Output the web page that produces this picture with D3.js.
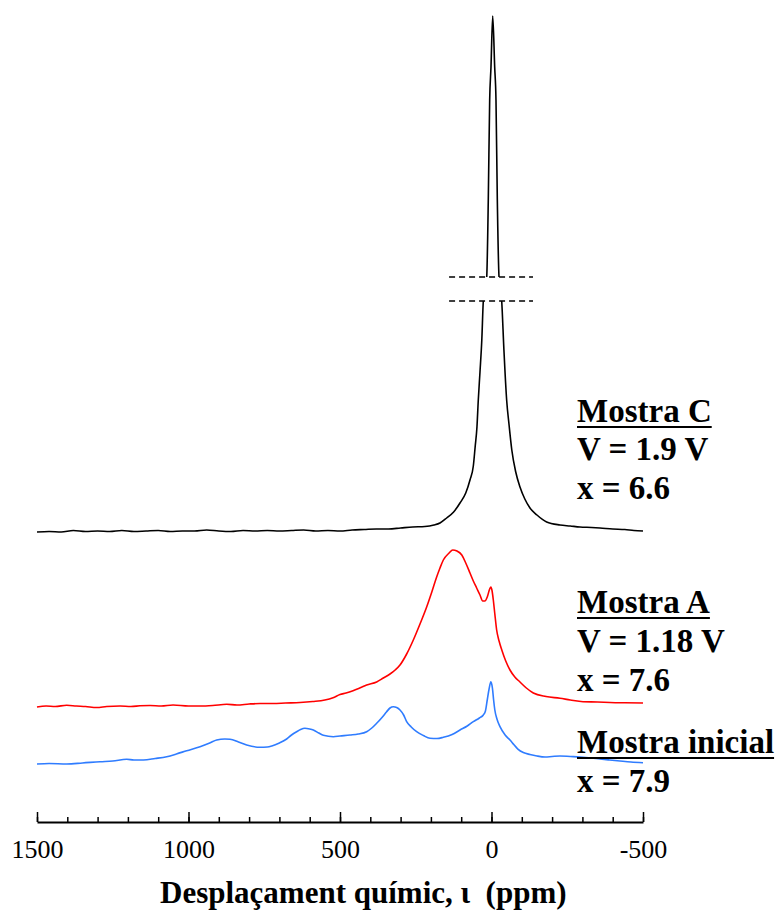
<!DOCTYPE html>
<html>
<head>
<meta charset="utf-8">
<script src="https://cdnjs.cloudflare.com/ajax/libs/d3/7.8.5/d3.min.js"></script>
<style>
  html, body { margin: 0; padding: 0; background: #fff; }
  svg { display: block; }
</style>
</head>
<body>
<svg id="chart" width="782" height="910"></svg>
<script>
// ---------------- DATA ----------------
// Chemical shift (ppm) and intensity above each spectrum's own baseline (a.u.)
const ppmC = [1500,1460,1420,1380,1340,1300,1260,1220,1180,1140,1100,1060,1020,980,940,900,860,820,780,740,700,660,620,580,540,500,460,420,380,340,300,260,220,190,170,148,125,104,85,71,60,54,48,43.6,38,32,27,15.8,10.6,6,1.7,-4,-10.5,-14.8,-19.2,-24.8,-33.7,-41,-50,-58,-67,-80,-94,-110,-127,-150,-182,-226,-260,-292,-330,-358,-400,-440,-470,-500];
const intC = [0,0.05,0,0.15,0.05,0.1,0.05,0.15,0.05,0.1,0.15,0.05,0.1,0.1,0.2,0.1,0.05,0.15,0.1,0.15,0.1,0.15,0.2,0.1,0.15,0.1,0.2,0.25,0.3,0.3,0.4,0.5,0.55,0.7,0.9,1.4,2.0,2.9,3.9,5.2,6.6,8.5,10.5,13.2,16.0,19.2,23.1,41,48.7,58.7,62,67.1,62,58.7,48.7,41,23.1,18.2,13.2,10.7,8.2,6.0,4.5,3.3,2.4,1.7,1.0,0.7,0.6,0.5,0.45,0.4,0.3,0.25,0.15,0.1];

const ppmA = [1500,1470,1440,1402,1370,1340,1303,1270,1226,1190,1160,1127,1090,1051,1000,962,920,874,840,800,764,720,680,632,590,550,523,500,480,457,435,412,379,357,335,318,302,280,258,236,214,197,181,170,159,140,128,114,98,85,71,60,49,38,29,22,14,6,2,-2,-6,-11,-17,-25,-34,-47,-61,-77,-94,-115,-138,-180,-226,-260,-302,-350,-391,-440,-500];
const intA = [0,0.1,0.05,0.17,0.1,0.05,-0.05,0.05,0.1,0.05,0.12,0.15,0.1,0.2,0.1,0.1,0.15,0.27,0.2,0.3,0.35,0.35,0.4,0.45,0.55,0.7,0.93,1.25,1.4,1.63,1.9,2.2,2.5,2.9,3.3,3.7,4.2,5.3,6.7,8.3,10.0,11.5,13.0,13.9,14.7,15.4,15.7,15.6,15.2,14.4,13.4,12.6,11.9,11.2,10.6,10.6,11.0,11.8,12.0,11.6,10.7,9.3,7.7,6.6,5.7,4.6,3.7,3.0,2.5,1.9,1.4,1.05,0.87,0.7,0.53,0.5,0.45,0.42,0.4];

const ppmI = [1500,1460,1402,1350,1292,1250,1204,1180,1149,1110,1072,1040,1006,962,930,907,880,863,835,808,764,740,725,700,676,660,643,630,616,600,588,570,555,522,500,467,440,412,395,379,360,346,335,324,313,302,290,280,265,247,225,203,180,159,130,104,80,60,40,27,20,14,8,2,-3,-7,-11,-18,-28,-45,-61,-75,-88,-105,-127,-150,-177,-200,-226,-260,-292,-330,-358,-390,-424,-460,-500];
const intI = [0,0.05,0,0.1,0.23,0.3,0.47,0.4,0.4,0.55,0.73,1.0,1.33,1.73,2.1,2.4,2.5,2.47,2.2,1.9,1.67,1.7,1.8,2.1,2.5,2.9,3.23,3.45,3.57,3.5,3.4,3.1,2.87,2.73,2.8,2.9,3.0,3.23,3.6,4.07,4.7,5.23,5.6,5.73,5.65,5.4,4.9,4.23,3.7,3.23,2.85,2.57,2.55,2.67,2.95,3.4,3.8,4.23,4.6,4.9,5.3,6.4,7.5,8.23,7.6,6.4,5.4,4.5,3.73,2.9,2.4,1.9,1.47,1.15,0.95,0.8,0.7,0.75,0.8,0.75,0.7,0.6,0.5,0.4,0.3,0.2,0.13];

// Stacking offsets (a.u.) and colours
const seriesNames   = ["Mostra C", "Mostra A", "Mostra inicial"];
const seriesOffsets = [29.0, 11.5, 5.8];
const seriesColors  = ["#000000", "#ff0000", "#2f7cff"];

// Axis break of the intensity axis (a.u.) and top of the plotted range
const breakLow = 52.1, breakHigh = 70, intensityTop = 96.1;

// x axis
const xTicks = [1500, 1000, 500, 0, -500];
const xMinorTicks = d3.range(1500, -501, -100);
const xTitle = "Desplaçament químic, ι\u00a0 (ppm)";

// Labels
const labelLines = [
  ["Mostra C", "V = 1.9 V", "x = 6.6"],
  ["Mostra A", "V = 1.18 V", "x = 7.6"],
  ["Mostra inicial", "x = 7.9"]
];

// ---------------- LAYOUT ----------------
const svg = d3.select("#chart");
const axisY = 822;
const x = d3.scaleLinear().domain([1500, -500]).range([37, 643]);
const y = d3.scaleLinear()
  .domain([0, breakLow, breakHigh, intensityTop])
  .range([axisY, 301, 277, 16]);

// clip out the break band
const defs = svg.append("defs");
const cp = defs.append("clipPath").attr("id", "breakclip");
cp.append("rect").attr("x", 0).attr("y", 0).attr("width", 782).attr("height", y(breakHigh));
cp.append("rect").attr("x", 0).attr("y", y(breakLow)).attr("width", 782).attr("height", 910 - y(breakLow));

const series = [
  {ppm: ppmC, val: intC},
  {ppm: ppmA, val: intA},
  {ppm: ppmI, val: intI}
];

const line = d3.line().curve(d3.curveMonotoneX);

series.forEach((s, i) => {
  const pts = s.ppm.map((p, k) => [x(p), y(seriesOffsets[i] + s.val[k])]);
  svg.append("path")
    .attr("d", line(pts))
    .attr("fill", "none")
    .attr("stroke", seriesColors[i])
    .attr("stroke-width", 1.6)
    .attr("stroke-linejoin", "round")
    .attr("clip-path", i === 0 ? "url(#breakclip)" : null);
});

// break markers
[breakLow, breakHigh].forEach(b => {
  svg.append("line")
    .attr("x1", x(140)).attr("x2", x(-137))
    .attr("y1", y(b)).attr("y2", y(b))
    .attr("stroke", "#000").attr("stroke-width", 1.4)
    .attr("stroke-dasharray", "6,4");
});

// minor ticks
const minorAxis = d3.axisBottom(x).tickValues(xMinorTicks).tickSizeInner(-5).tickSizeOuter(0).tickFormat("");
const gMinor = svg.append("g").attr("transform", `translate(0,${axisY})`).call(minorAxis);
gMinor.select(".domain").remove();
gMinor.selectAll(".tick line").attr("stroke-width", 1.5);

// major axis
const majorAxis = d3.axisBottom(x).tickValues(xTicks).tickSizeInner(-10).tickSizeOuter(0)
  .tickPadding(18).tickFormat(d3.format("d"));
const gAxis = svg.append("g").attr("transform", `translate(0,${axisY})`).call(majorAxis);
gAxis.select(".domain").attr("stroke-width", 2);
gAxis.selectAll(".tick line").attr("stroke-width", 1.5);
gAxis.selectAll(".tick text")
  .attr("font-family", "'Liberation Serif', 'Times New Roman', serif")
  .attr("font-size", 26)
  .attr("fill", "#000")
  .text(d => d === 0 ? "0" : String(d).replace("\u2212", "-"));

// x title
svg.append("text")
  .attr("x", 160).attr("y", 903)
  .attr("font-family", "'Liberation Serif', 'Times New Roman', serif")
  .attr("font-size", 31)
  .attr("font-weight", "bold")
  .attr("fill", "#000")
  .text(xTitle);

// labels
const labelBaselines = [[422, 460, 499], [613, 652, 691], [753, 792]];
labelLines.forEach((lines, i) => {
  lines.forEach((t, j) => {
    const tx = svg.append("text")
      .attr("x", 577).attr("y", labelBaselines[i][j])
      .attr("font-family", "'Liberation Serif', 'Times New Roman', serif")
      .attr("font-size", 33)
      .attr("font-weight", "bold")
      .attr("fill", "#000")
      .text(t);
    if (j === 0) {
      const w = tx.node().getComputedTextLength();
      svg.append("line")
        .attr("x1", 577).attr("x2", 577 + w)
        .attr("y1", labelBaselines[i][j] + 5).attr("y2", labelBaselines[i][j] + 5)
        .attr("stroke", "#000").attr("stroke-width", 2);
    }
  });
});
</script>
</body>
</html>
